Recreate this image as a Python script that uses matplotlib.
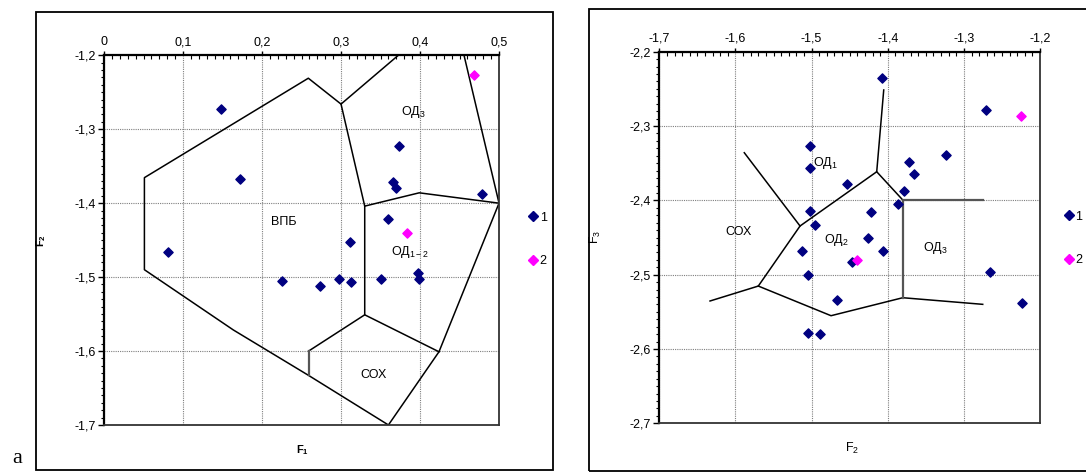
import matplotlib.pyplot as plt
from matplotlib.lines import Line2D
from matplotlib.patches import Rectangle
from matplotlib.ticker import FuncFormatter, MultipleLocator

plt.rcParams['font.family'] = ['Liberation Sans', 'DejaVu Sans']
plt.rcParams['mathtext.default'] = 'regular'

# left panel: F1 / F2
left_blue_f1 = [0.148, 0.172, 0.081, 0.225, 0.311, 0.274, 0.298, 0.313, 0.350,
                0.397, 0.399, 0.374, 0.366, 0.369, 0.479, 0.359]
left_blue_f2 = [-1.273, -1.367, -1.466, -1.505, -1.453, -1.512, -1.503, -1.506, -1.503,
                -1.495, -1.502, -1.323, -1.371, -1.379, -1.387, -1.422]
left_pink_f1 = [0.468, 0.383]
left_pink_f2 = [-1.227, -1.440]

# region boundaries (polylines)
left_bounds = [
    ([0.3725, 0.300, 0.2586, 0.0511, 0.0511, 0.1637, 0.259, 0.360, 0.424, 0.5, 0.4557],
     [-1.2, -1.266, -1.231, -1.3655, -1.490, -1.5715, -1.633, -1.7, -1.601, -1.4, -1.2]),
    ([0.300, 0.330, 0.399, 0.5], [-1.266, -1.404, -1.386, -1.4]),
    ([0.330, 0.330, 0.259], [-1.404, -1.551, -1.600]),
    ([0.330, 0.424], [-1.551, -1.601]),
]
left_gray_bounds = [([0.259, 0.259], [-1.600, -1.633])]
left_regions = ['ВПБ', 'ОД$_3$', 'ОД$_{1-2}$', 'СОХ']
left_region_x = [0.227, 0.392, 0.387, 0.341]
left_region_y = [-1.425, -1.277, -1.466, -1.632]

# right panel: F2 / F3
right_blue_f2 = [-1.502, -1.502, -1.502, -1.496, -1.513, -1.505, -1.505, -1.489, -1.407,
                 -1.271, -1.323, -1.372, -1.366, -1.453, -1.379, -1.387, -1.422, -1.426,
                 -1.406, -1.447, -1.266, -1.224, -1.467]
right_blue_f3 = [-2.327, -2.356, -2.414, -2.433, -2.468, -2.500, -2.578, -2.580, -2.235,
                 -2.279, -2.339, -2.349, -2.365, -2.378, -2.388, -2.405, -2.416, -2.451,
                 -2.468, -2.483, -2.496, -2.538, -2.534]
right_pink_f2 = [-1.225, -1.440]
right_pink_f3 = [-2.287, -2.480]

right_bounds = [
    ([-1.5884, -1.5152, -1.5700, -1.6334], [-2.3359, -2.4345, -2.5153, -2.5354]),
    ([-1.5152, -1.4145, -1.4053], [-2.4345, -2.3615, -2.2515]),
    ([-1.4145, -1.3803], [-2.3615, -2.3995]),
    ([-1.3803, -1.4745, -1.5700], [-2.531, -2.5552, -2.5153]),
    ([-1.3803, -1.2753], [-2.531, -2.5399]),
]
right_gray_bounds = [([-1.2753, -1.3803, -1.3803], [-2.3995, -2.3995, -2.531])]
right_regions = ['ОД$_1$', 'СОХ', 'ОД$_2$', 'ОД$_3$']
right_region_x = [-1.482, -1.596, -1.467, -1.337]
right_region_y = [-2.350, -2.443, -2.4535, -2.4645]

series_labels = ['1', '2']
blue = '#000080'
pink = '#FF00FF'


def comma(v, pos):
    if abs(v) < 1e-9:
        return '0'
    return f'{v:.1f}'.replace('.', ',')


def style_axes(ax, xlim, ylim):
    ax.set_xlim(*xlim)
    ax.set_ylim(*ylim)
    ax.xaxis.tick_top()
    ax.xaxis.set_major_locator(MultipleLocator(0.1))
    ax.xaxis.set_minor_locator(MultipleLocator(0.01))
    ax.yaxis.set_major_locator(MultipleLocator(0.1))
    ax.yaxis.set_minor_locator(MultipleLocator(0.01))
    ax.xaxis.set_major_formatter(FuncFormatter(comma))
    ax.yaxis.set_major_formatter(FuncFormatter(comma))
    ax.tick_params(axis='x', which='major', direction='out', length=3, width=1, labelsize=9, pad=2)
    ax.tick_params(axis='x', which='minor', direction='in', length=3, width=0.8)
    ax.tick_params(axis='y', which='major', direction='out', length=4, width=1, labelsize=9, pad=2)
    ax.tick_params(axis='y', which='minor', direction='out', length=2.5, width=0.8)
    ax.grid(True, which='major', color='#7f7f7f', linestyle=(0, (1, 1)), linewidth=0.8)
    for s in ['top', 'left']:
        ax.spines[s].set_linewidth(1.6)
    for s in ['bottom', 'right']:
        ax.spines[s].set_linewidth(1.3)
        ax.spines[s].set_color('#333333')


fig = plt.figure(figsize=(10.86, 4.75), dpi=100)

# outer frames
fig.patches.append(Rectangle((0.0329, 0.0105), 0.4763, 0.9642, transform=fig.transFigure,
                             fill=False, edgecolor='black', linewidth=1.3))
fig.patches.append(Rectangle((0.5424, 0.009), 0.47, 0.972, transform=fig.transFigure,
                             fill=False, edgecolor='black', linewidth=1.3))

# left panel
ax1 = fig.add_axes([0.0958, 0.1053, 0.3637, 0.7783])
style_axes(ax1, (0, 0.5), (-1.7, -1.2))
for xs, ys in left_bounds:
    ax1.plot(xs, ys, color='black', linewidth=1.1)
for xs, ys in left_gray_bounds:
    ax1.plot(xs, ys, color='#555555', linewidth=1.6)
ax1.scatter(left_blue_f1, left_blue_f2, marker='D', s=22, color=blue, zorder=3)
ax1.scatter(left_pink_f1, left_pink_f2, marker='D', s=22, color=pink, zorder=3)
for name, x, y in zip(left_regions, left_region_x, left_region_y):
    ax1.text(x, y, name, fontsize=9, ha='center', va='center')
ax1.set_xlabel('F$_1$', fontsize=8, fontweight='bold')
ax1.xaxis.set_label_position('bottom')
ax1.xaxis.set_label_coords(0.502, -0.05)
ax1.set_ylabel('F$_2$', fontsize=8, fontweight='bold')
ax1.yaxis.set_label_coords(-0.142, 0.5)

handles = [Line2D([], [], marker='D', linestyle='none', markersize=5, color=blue),
           Line2D([], [], marker='D', linestyle='none', markersize=5, color=pink)]
fig.legend(handles, series_labels, loc='center left', bbox_to_anchor=(0.4865, 0.4958),
           frameon=False, fontsize=9, handlelength=0.8, handletextpad=0.1,
           labelspacing=2.5, borderpad=0, borderaxespad=0)

# right panel
ax2 = fig.add_axes([0.6071, 0.1088, 0.3506, 0.7823])
style_axes(ax2, (-1.7, -1.2), (-2.7, -2.2))
for xs, ys in right_bounds:
    ax2.plot(xs, ys, color='black', linewidth=1.1)
for xs, ys in right_gray_bounds:
    ax2.plot(xs, ys, color='#555555', linewidth=1.6)
ax2.scatter(right_blue_f2, right_blue_f3, marker='D', s=22, color=blue, zorder=3)
ax2.scatter(right_pink_f2, right_pink_f3, marker='D', s=22, color=pink, zorder=3)
for name, x, y in zip(right_regions, right_region_x, right_region_y):
    ax2.text(x, y, name, fontsize=9, ha='center', va='center')
ax2.set_xlabel('F$_2$', fontsize=9)
ax2.xaxis.set_label_position('bottom')
ax2.xaxis.set_label_coords(0.505, -0.048)
ax2.set_ylabel('F$_3$', fontsize=9)
ax2.yaxis.set_label_coords(-0.147, 0.502)

fig.legend(handles, series_labels, loc='center left', bbox_to_anchor=(0.9800, 0.4983),
           frameon=False, fontsize=9, handlelength=0.8, handletextpad=0.1,
           labelspacing=2.5, borderpad=0, borderaxespad=0)

fig.text(0.011, 0.025, 'а', fontsize=16, family='Liberation Serif')

fig.savefig('out.png', dpi=100)
